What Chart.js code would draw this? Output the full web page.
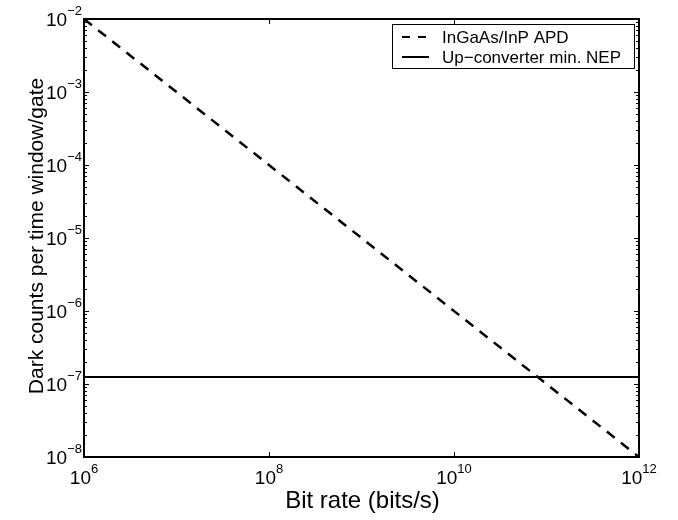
<!DOCTYPE html>
<html>
<head>
<meta charset="utf-8">
<script src="https://cdn.jsdelivr.net/npm/chart.js@4/dist/chart.umd.min.js"></script>
<style>
  body { margin: 0; background: #fff; }
  canvas { display: block; }
</style>
</head>
<body>
<canvas id="darkCountChart" width="678" height="520"></canvas>
<script>
// Bit rate (bits/s) endpoints of both curves
const bitRates = [1e6, 1e12];
// InGaAs/InP APD: dark counts per gate falls one decade per decade of bit rate
const apdDarkCounts = [1e-2, 1e-8];
// Up-converter minimum NEP: flat level
const nepDarkCounts = [1.25e-7, 1.25e-7];
// Decade exponents used for tick labels
const xTickExps = [6, 8, 10, 12];
const yTickExps = [-8, -7, -6, -5, -4, -3, -2];
const seriesLabels = ['InGaAs/InP APD', 'Up\u2212converter min. NEP'];

const FONT = '"Liberation Sans", Arial, Helvetica, sans-serif';

function toPoints(xs, ys) {
    return xs.map((x, i) => ({ x: x, y: ys[i] }));
}

// Draws the MATLAB-style frame, inward ticks, 10^n labels, axis titles and legend
const frameAndLabels = {
    id: 'frameAndLabels',
    afterDatasetsDraw(chart) {
        const ctx = chart.ctx;
        const area = chart.chartArea;
        const xs = chart.scales.x;
        const ys = chart.scales.y;
        const L = Math.round(area.left), R = Math.round(area.right);
        const T = Math.round(area.top), B = Math.round(area.bottom);

        ctx.save();
        ctx.strokeStyle = '#000';
        ctx.fillStyle = '#000';

        // y ticks (major + minor) on left and right sides
        ctx.lineWidth = 1;
        ctx.beginPath();
        for (let d = -8; d <= -2; d++) {
            const yp = Math.round(ys.getPixelForValue(Math.pow(10, d))) + 0.5;
            ctx.moveTo(L, yp); ctx.lineTo(L + 5, yp);
            ctx.moveTo(R, yp); ctx.lineTo(R - 5, yp);
            if (d === -2) continue;
            for (let m = 2; m <= 9; m++) {
                const ym = Math.round(ys.getPixelForValue(m * Math.pow(10, d))) + 0.5;
                ctx.moveTo(L, ym); ctx.lineTo(L + 3, ym);
                ctx.moveTo(R, ym); ctx.lineTo(R - 3, ym);
            }
        }
        // x ticks on bottom and top sides
        xTickExps.forEach(e => {
            const xp = Math.round(xs.getPixelForValue(Math.pow(10, e))) + 0.5;
            ctx.moveTo(xp, B); ctx.lineTo(xp, B - 5);
            ctx.moveTo(xp, T); ctx.lineTo(xp, T + 5);
        });
        ctx.stroke();

        // frame
        ctx.lineWidth = 2;
        ctx.strokeRect(L, T, R - L, B - T);

        // y tick labels: "10" with raised exponent, right aligned to the axis
        const baseFont = '19px ' + FONT;
        const expFont = '13px ' + FONT;
        ctx.textBaseline = 'middle';
        yTickExps.forEach(e => {
            const yp = ys.getPixelForValue(Math.pow(10, e));
            const expText = '\u2212' + Math.abs(e);
            ctx.font = expFont;
            const we = ctx.measureText(expText).width;
            const right = L - 2;
            ctx.textAlign = 'left';
            ctx.fillText(expText, right - we, yp - 8);
            ctx.font = baseFont;
            ctx.textAlign = 'right';
            ctx.fillText('10', right - we, yp + 2);
        });

        // x tick labels, centred on the tick
        xTickExps.forEach(e => {
            const xp = xs.getPixelForValue(Math.pow(10, e));
            const expText = String(e);
            ctx.font = baseFont;
            const wb = ctx.measureText('10').width;
            ctx.font = expFont;
            const we = ctx.measureText(expText).width;
            const start = xp - (wb + we) / 2;
            ctx.textAlign = 'left';
            ctx.font = baseFont;
            ctx.fillText('10', start, B + 22);
            ctx.font = expFont;
            ctx.fillText(expText, start + wb, B + 12);
        });

        // axis titles
        ctx.textBaseline = 'alphabetic';
        ctx.textAlign = 'center';
        ctx.font = '24px ' + FONT;
        ctx.fillText('Bit rate (bits/s)', (L + R) / 2 + 1, 508);

        ctx.save();
        ctx.translate(43, (T + B) / 2 - 2);
        ctx.rotate(-Math.PI / 2);
        ctx.font = '21px ' + FONT;
        ctx.fillText('Dark counts per time window/gate', 0, 0);
        ctx.restore();

        // legend box
        const bx = 392, by = 24, bw = 242, bh = 44;
        ctx.fillStyle = '#fff';
        ctx.fillRect(bx, by, bw, bh);
        ctx.lineWidth = 1;
        ctx.strokeStyle = '#000';
        ctx.strokeRect(bx + 0.5, by + 0.5, bw, bh);

        const rows = [37, 57];
        ctx.lineWidth = 2;
        ctx.setLineDash([8, 8]);
        ctx.beginPath();
        ctx.moveTo(402, rows[0]); ctx.lineTo(427, rows[0]);
        ctx.stroke();
        ctx.setLineDash([]);
        ctx.beginPath();
        ctx.moveTo(402, rows[1]); ctx.lineTo(429, rows[1]);
        ctx.stroke();

        ctx.fillStyle = '#000';
        ctx.font = '17px ' + FONT;
        ctx.textAlign = 'left';
        ctx.textBaseline = 'middle';
        ctx.fillText(seriesLabels[0], 442, rows[0] + 1);
        ctx.fillText(seriesLabels[1], 442, rows[1] + 1);

        ctx.restore();
    }
};

new Chart(document.getElementById('darkCountChart'), {
    type: 'line',
    data: {
        datasets: [{
            label: seriesLabels[0],
            data: toPoints(bitRates, apdDarkCounts),
            borderColor: '#000',
            borderWidth: 2.5,
            borderDash: [10, 8],
            pointRadius: 0,
            fill: false
        }, {
            label: seriesLabels[1],
            data: toPoints(bitRates, nepDarkCounts),
            borderColor: '#000',
            borderWidth: 2,
            pointRadius: 0,
            fill: false
        }]
    },
    options: {
        responsive: false,
        animation: false,
        layout: {
            padding: { top: 19, right: 39, left: 0, bottom: 0 }
        },
        plugins: {
            legend: { display: false },
            tooltip: { enabled: false }
        },
        scales: {
            x: {
                type: 'logarithmic',
                min: 1e6,
                max: 1e12,
                ticks: { display: false },
                grid: { display: false },
                border: { display: false },
                afterFit: function(scale) { scale.height = 63; }
            },
            y: {
                type: 'logarithmic',
                min: 1e-8,
                max: 1e-2,
                ticks: { display: false },
                grid: { display: false },
                border: { display: false },
                afterFit: function(scale) { scale.width = 84; }
            }
        }
    },
    plugins: [frameAndLabels]
});
</script>
</body>
</html>
